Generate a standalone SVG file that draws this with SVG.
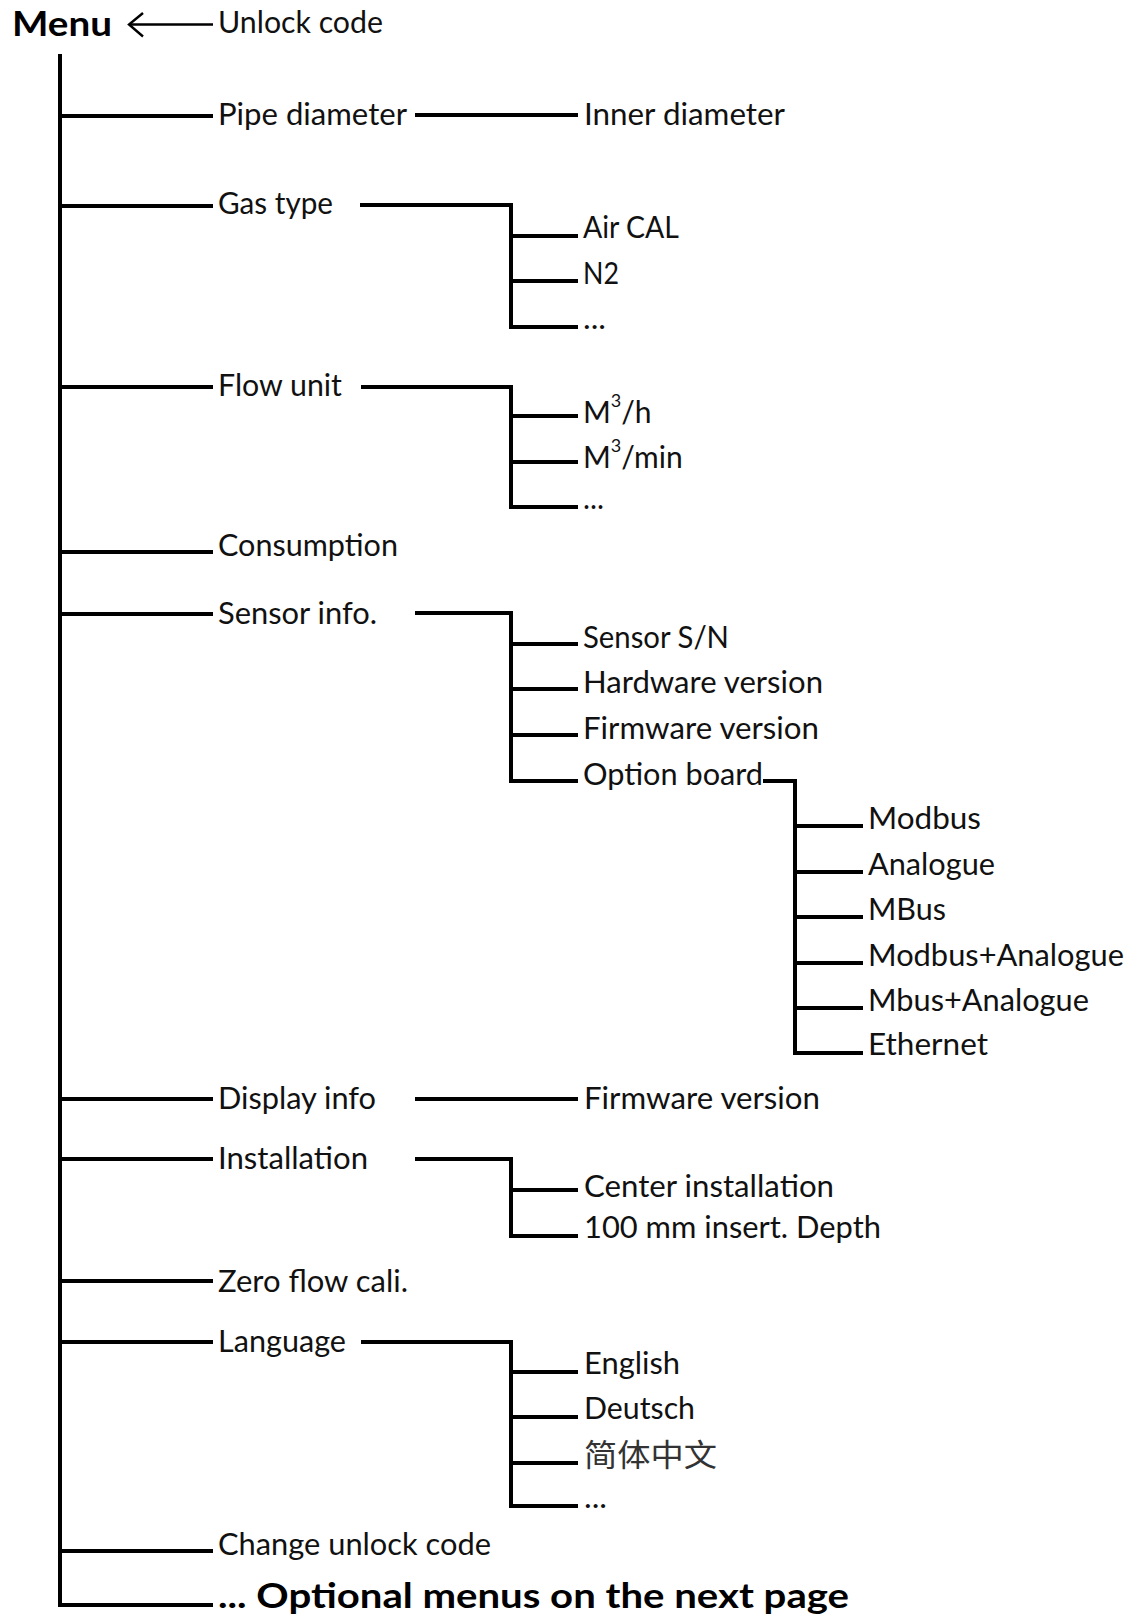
<svg xmlns="http://www.w3.org/2000/svg" width="1133" height="1617" viewBox="0 0 1133 1617">
<style>
  .ln { fill: none; stroke: #000; stroke-width: 4; stroke-linejoin: miter; stroke-linecap: butt; }
  .arr { fill: none; stroke: #000; stroke-width: 2.4; }
  .t { font-family: Lato, "Liberation Sans", sans-serif; font-size: 30px; fill: #111; }
  .b { font-family: Lato, "Liberation Sans", sans-serif; font-size: 34px; font-weight: bold; fill: #000; }
  .cjk { font-family: "Noto Sans CJK SC", sans-serif; font-size: 31px; fill: #333; }
  .sup { font-size: 18px; }
</style>
<rect width="1133" height="1617" fill="#fff"/>

<g id="connectors">
  <!-- arrow Unlock code -> Menu -->
  <line class="arr" x1="213" y1="24.5" x2="129" y2="24.5"/>
  <polyline class="arr" points="143,13 129,24.5 143,36.5"/>
  <!-- main trunk -->
  <line class="ln" x1="60" y1="54" x2="60" y2="1607"/>
  <path class="ln" d="M60,116 H213 M60,206 H213 M60,387 H213 M60,552 H213 M60,614 H213 M60,1099 H213 M60,1159 H213 M60,1281 H213 M60,1342 H213 M60,1551 H213 M60,1605 H213"/>
  <!-- Pipe diameter -->
  <path class="ln" d="M415,115 H578"/>
  <!-- Gas type -->
  <path class="ln" d="M360,205 H511 V327 H578 M511,236 H578 M511,281 H578"/>
  <!-- Flow unit -->
  <path class="ln" d="M361,387 H511 V507 H578 M511,416 H578 M511,462 H578"/>
  <!-- Sensor info -->
  <path class="ln" d="M415,613 H511 V781 H578 M511,644 H578 M511,689 H578 M511,735 H578"/>
  <!-- Option board -->
  <path class="ln" d="M763,781 H795 V1053 H863 M795,826 H863 M795,872 H863 M795,917 H863 M795,963 H863 M795,1008 H863"/>
  <!-- Display info -->
  <path class="ln" d="M415,1099 H578"/>
  <!-- Installation -->
  <path class="ln" d="M415,1159 H511 V1236 H578 M511,1190 H578"/>
  <!-- Language -->
  <path class="ln" d="M361,1342 H511 V1506 H578 M511,1372 H578 M511,1417 H578 M511,1463 H578"/>
</g>

<g id="menu"><text class="b" x="12" y="36" textLength="100" lengthAdjust="spacingAndGlyphs">Menu</text></g>
<g id="unlock-code"><text class="t" x="218" y="33" textLength="165" lengthAdjust="spacingAndGlyphs">Unlock code</text></g>

<g id="pipe-diameter"><text class="t" x="218" y="125" textLength="189" lengthAdjust="spacingAndGlyphs">Pipe diameter</text></g>
<g id="inner-diameter"><text class="t" x="584" y="125" textLength="201" lengthAdjust="spacingAndGlyphs">Inner diameter</text></g>

<g id="gas-type"><text class="t" x="218" y="214" textLength="115" lengthAdjust="spacingAndGlyphs">Gas type</text></g>
<g id="air-cal"><text class="t" x="583" y="238" textLength="96" lengthAdjust="spacingAndGlyphs">Air CAL</text></g>
<g id="n2"><text class="t" x="583" y="284" textLength="36" lengthAdjust="spacingAndGlyphs">N2</text></g>
<g id="gas-more"><text class="t" x="583" y="329" textLength="23" lengthAdjust="spacingAndGlyphs">...</text></g>

<g id="flow-unit"><text class="t" x="218" y="396" textLength="124" lengthAdjust="spacingAndGlyphs">Flow unit</text></g>
<g id="m3h"><text class="t" x="583" y="423">M<tspan class="sup" dy="-16">3</tspan><tspan dy="16">/h</tspan></text></g>
<g id="m3min"><text class="t" x="583" y="468">M<tspan class="sup" dy="-16">3</tspan><tspan dy="16">/min</tspan></text></g>
<g id="flow-more"><text class="t" x="583" y="509" textLength="21" lengthAdjust="spacingAndGlyphs">...</text></g>

<g id="consumption"><text class="t" x="218" y="556" textLength="180" lengthAdjust="spacingAndGlyphs">Consumption</text></g>

<g id="sensor-info"><text class="t" x="218" y="624" textLength="159" lengthAdjust="spacingAndGlyphs">Sensor info.</text></g>
<g id="sensor-sn"><text class="t" x="583" y="648" textLength="146" lengthAdjust="spacingAndGlyphs">Sensor S/N</text></g>
<g id="hardware-version"><text class="t" x="583" y="693" textLength="240" lengthAdjust="spacingAndGlyphs">Hardware version</text></g>
<g id="firmware-version"><text class="t" x="583" y="739" textLength="236" lengthAdjust="spacingAndGlyphs">Firmware version</text></g>
<g id="option-board"><text class="t" x="583" y="785" textLength="180" lengthAdjust="spacingAndGlyphs">Option board</text></g>

<g id="modbus"><text class="t" x="868" y="829" textLength="113" lengthAdjust="spacingAndGlyphs">Modbus</text></g>
<g id="analogue"><text class="t" x="868" y="875" textLength="127" lengthAdjust="spacingAndGlyphs">Analogue</text></g>
<g id="mbus"><text class="t" x="868" y="920" textLength="78" lengthAdjust="spacingAndGlyphs">MBus</text></g>
<g id="modbus-analogue"><text class="t" x="868" y="966" textLength="256" lengthAdjust="spacingAndGlyphs">Modbus+Analogue</text></g>
<g id="mbus-analogue"><text class="t" x="868" y="1011" textLength="221" lengthAdjust="spacingAndGlyphs">Mbus+Analogue</text></g>
<g id="ethernet"><text class="t" x="868" y="1055" textLength="120" lengthAdjust="spacingAndGlyphs">Ethernet</text></g>

<g id="display-info"><text class="t" x="218" y="1109" textLength="158" lengthAdjust="spacingAndGlyphs">Display info</text></g>
<g id="display-firmware"><text class="t" x="584" y="1109" textLength="236" lengthAdjust="spacingAndGlyphs">Firmware version</text></g>

<g id="installation"><text class="t" x="218" y="1169" textLength="150" lengthAdjust="spacingAndGlyphs">Installation</text></g>
<g id="center-installation"><text class="t" x="584" y="1197" textLength="250" lengthAdjust="spacingAndGlyphs">Center installation</text></g>
<g id="insert-depth"><text class="t" x="584" y="1238" textLength="297" lengthAdjust="spacingAndGlyphs">100 mm insert. Depth</text></g>

<g id="zero-flow"><text class="t" x="218" y="1292" textLength="190" lengthAdjust="spacingAndGlyphs">Zero flow cali.</text></g>

<g id="language"><text class="t" x="218" y="1352" textLength="128" lengthAdjust="spacingAndGlyphs">Language</text></g>
<g id="english"><text class="t" x="584" y="1374" textLength="96" lengthAdjust="spacingAndGlyphs">English</text></g>
<g id="deutsch"><text class="t" x="584" y="1419" textLength="111" lengthAdjust="spacingAndGlyphs">Deutsch</text></g>
<g id="chinese"><text class="cjk" x="584" y="1466" textLength="133" lengthAdjust="spacingAndGlyphs">简体中文</text></g>
<g id="lang-more"><text class="t" x="584" y="1508" textLength="23" lengthAdjust="spacingAndGlyphs">...</text></g>

<g id="change-unlock"><text class="t" x="218" y="1555" textLength="273" lengthAdjust="spacingAndGlyphs">Change unlock code</text></g>
<g id="optional"><text class="b" x="218" y="1608" textLength="631" lengthAdjust="spacingAndGlyphs">... Optional menus on the next page</text></g>
</svg>
